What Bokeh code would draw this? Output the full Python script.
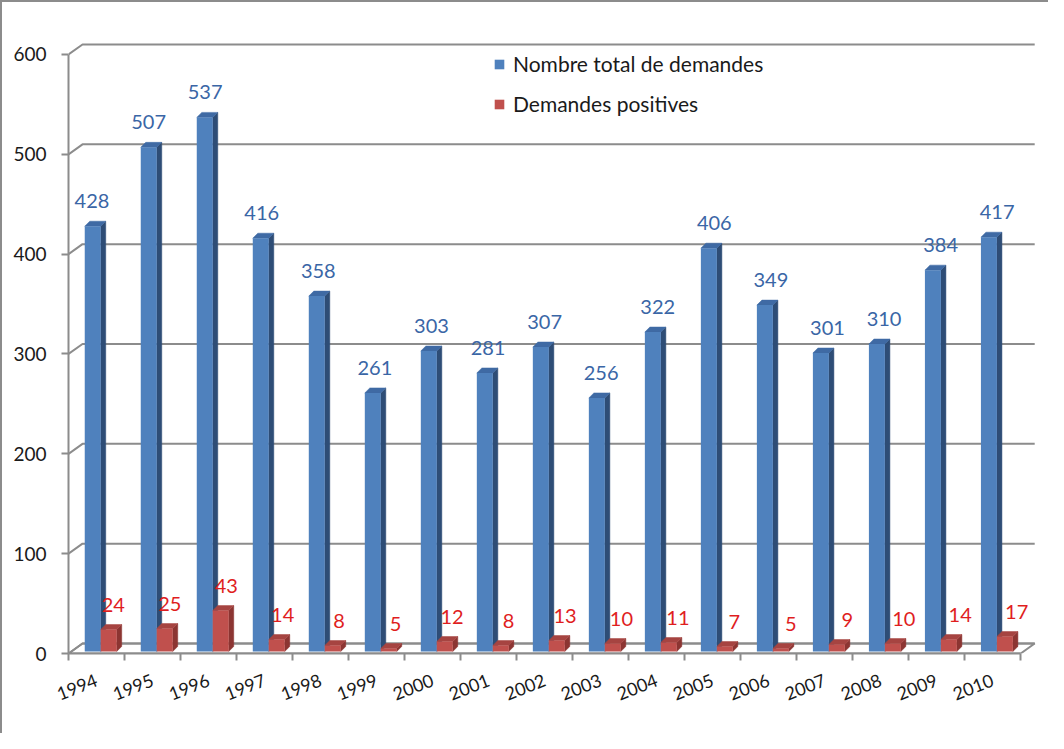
from bokeh.plotting import figure
from bokeh.models import (Range1d, FixedTicker, Legend, LegendItem)
from bokeh.core.properties import value
from bokeh.embed import file_html
from bokeh.resources import INLINE

# ---- data ----
years = ["1994", "1995", "1996", "1997", "1998", "1999", "2000", "2001", "2002",
         "2003", "2004", "2005", "2006", "2007", "2008", "2009", "2010"]
total = [428, 507, 537, 416, 358, 261, 303, 281, 307, 256, 322, 406, 349, 301, 310, 384, 417]
positive = [24, 25, 43, 14, 8, 5, 12, 8, 13, 10, 11, 7, 5, 9, 10, 14, 17]
y_ticks = [0, 100, 200, 300, 400, 500, 600]
series_names = ["Nombre total de demandes", "Demandes positives"]

FONT = "Lato"
n = len(years)

# 3D geometry (data units)
WDX, WDY = 0.25, 10      # wall depth
BW = 0.285               # bar width
BDX, BDY = 0.09, 5       # bar depth
BASE = 2
LBL = 20                 # label gap above bar top

p = figure(width=1048, height=733, output_backend="svg", toolbar_location=None,
           x_range=Range1d(0, 17.3), y_range=Range1d(0, 612),
           min_border_left=66, min_border_right=13, min_border_top=40, min_border_bottom=82)
p.outline_line_color = None
p.xgrid.visible = False
p.ygrid.visible = False
p.background_fill_color = "white"
p.styles = {"border-left": "2px solid #8c8c8c", "border-top": "2px solid #8c8c8c"}

GRID = "#8c8c8c"

# floor
p.patch([0, n, n + WDX, WDX], [0, 0, WDY, WDY], fill_color="white",
        line_color=GRID, line_width=2)
# gridlines on left + back wall
gx = [[0, WDX, n + WDX] for v in y_ticks]
gy = [[v, v + WDY, v + WDY] for v in y_ticks]
p.multi_line(gx, gy, line_color=GRID, line_width=2)


def bar_faces(vals, off):
    fl, fr, side_x, side_y, top_x, top_y = [], [], [], [], [], []
    for i, v in enumerate(vals):
        l = i + off
        r = l + BW
        fl.append(l)
        fr.append(r)
        side_x.append([r, r + BDX, r + BDX, r])
        side_y.append([BASE, BASE + BDY, v + BDY, v])
        top_x.append([l, l + BDX, r + BDX, r])
        top_y.append([v, v + BDY, v + BDY, v])
    return fl, fr, side_x, side_y, top_x, top_y


renderers = []
for vals, off, cf, cs, ct in [
    (total, 0.29, "#4F81BD", "#2E4D76", "#3F6AA4"),
    (positive, 0.29 + BW, "#C0504D", "#8C3532", "#A64441"),
]:
    fl, fr, sx, sy, tx, ty = bar_faces(vals, off)
    p.patches(sx, sy, fill_color=cs, line_color=cs, line_width=0.5)
    p.patches(tx, ty, fill_color=ct, line_color=ct, line_width=0.5)
    r = p.quad(left=fl, right=fr, bottom=[BASE] * n, top=vals,
               fill_color=cf, line_color=None)
    renderers.append(r)

# data labels
idx = list(range(n))
p.text(x=[i + 0.42 + 0.01 * i for i in idx], y=[v + BDY + LBL for v in total],
       text=[str(v) for v in total], text_align="center", text_baseline="alphabetic",
       text_font=value(FONT), text_font_size="20px", text_color="#3A66A6")
p.text(x=[i + 0.80 + 0.008 * i for i in idx], y=[v + BDY + LBL for v in positive],
       text=[str(v) for v in positive], text_align="center", text_baseline="alphabetic",
       text_font=value(FONT), text_font_size="20px", text_color="#E01E1E")

# axes
ya = p.yaxis[0]
ya.ticker = FixedTicker(ticks=y_ticks)
ya.bounds = (0, 600)
ya.axis_line_color = GRID
ya.axis_line_width = 2
ya.major_tick_line_color = GRID
ya.major_tick_line_width = 2
ya.major_tick_out = 7
ya.major_tick_in = 0
ya.minor_tick_line_color = None
ya.major_label_standoff = 15
ya.major_label_text_font = FONT
ya.major_label_text_font_size = "19px"
ya.major_label_text_color = "#1a1a1a"

xa = p.xaxis[0]
centers = [i + 0.5 for i in idx]
xa.ticker = FixedTicker(ticks=centers, minor_ticks=list(range(n + 1)))
xa.major_label_overrides = {c: y for c, y in zip(centers, years)}
xa.bounds = (0, n)
xa.axis_line_color = GRID
xa.axis_line_width = 2
xa.major_tick_line_color = None
xa.minor_tick_line_color = GRID
xa.minor_tick_line_width = 2
xa.minor_tick_out = 7
xa.minor_tick_in = 0
xa.major_label_orientation = 0.37
xa.major_label_standoff = 19
xa.major_label_text_font = FONT
xa.major_label_text_font_size = "18px"
xa.major_label_text_color = "#1a1a1a"

legend = Legend(items=[LegendItem(label=series_names[0], renderers=[renderers[0]]),
                       LegendItem(label=series_names[1], renderers=[renderers[1]])],
                location=(425, 537), orientation="vertical")
legend.padding = 0
legend.margin = 0
legend.spacing = 15
legend.glyph_width = 12
legend.glyph_height = 12
legend.label_height = 22
legend.label_standoff = 8
legend.label_text_font = FONT
legend.label_text_font_size = "21px"
legend.label_text_color = "#1a1a1a"
legend.background_fill_alpha = 0
legend.border_line_color = None
p.add_layout(legend, "center")

open("out.html", "w").write(file_html(p, INLINE))
